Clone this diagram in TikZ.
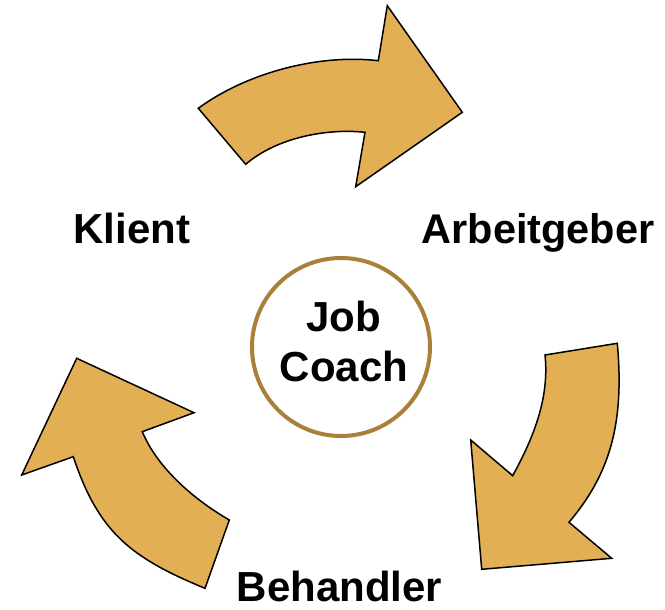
\documentclass[tikz,border=0pt]{standalone}
\usepackage{fontspec}
\setmainfont{Liberation Sans}
\begin{document}
\begin{tikzpicture}[x=1pt,y=-1pt]
\definecolor{arrowfill}{RGB}{227,175,85}
\definecolor{ringcol}{RGB}{168,128,58}
\tikzset{
  cyclearrow/.style={fill=arrowfill,draw=black,line width=1.5pt,line join=miter},
  lbl/.style={font=\fontsize{42}{50}\selectfont\bfseries,anchor=base,inner sep=0pt},
  ring/.style={circle,draw=ringcol,line width=4pt,fill=white,minimum size=178pt,inner sep=0pt}
}
\useasboundingbox[fill=white] (0,0) rectangle (665,610);
% top arrow (Klient -> Arbeitgeber)
\path[cyclearrow] (198.3,108.3) .. controls (246.7,72.8) and (318.7,53.7) .. (378.3,60.7)
  -- (387.3,5.7) -- (462.3,112.3) -- (355.7,186.7) -- (365,132.3)
  .. controls (325.2,128.1) and (276,138.2) .. (245.7,164.3) -- cycle;
% right arrow (Arbeitgeber -> Behandler)
\path[cyclearrow] (617.3,343.3) .. controls (625,428) and (607.6,476.3) .. (569,522.3)
  -- (611.7,558.3) -- (481.7,569.3) -- (470.7,440) -- (512.7,475.7)
  .. controls (531.9,440.6) and (549.8,399.7) .. (545,355) -- cycle;
% left arrow (Behandler -> Klient)
\path[cyclearrow] (76.7,358.3) -- (194,412.7) -- (142.3,431.7)
  .. controls (157.7,468.6) and (194.7,500) .. (229.3,520)
  -- (205,588.3)
  .. controls (131,557.8) and (98.6,532.6) .. (73.3,456.7)
  -- (21.7,475) -- cycle;
% centre
\node[ring] (jc) at (341,347) {};
\node[lbl] (job) at (343.5,331.7) {Job};
\node[lbl] (coach) at (344,381.7) {Coach};
% labels
\node[lbl] (klient) at (131.7,243.3) {Klient};
\node[lbl,font=\fontsize{41.5}{50}\selectfont\bfseries] (arb) at (538,243.3) {Arbeitgeber};
\node[lbl] (beh) at (339.5,601) {Behandler};
\end{tikzpicture}
\end{document}
